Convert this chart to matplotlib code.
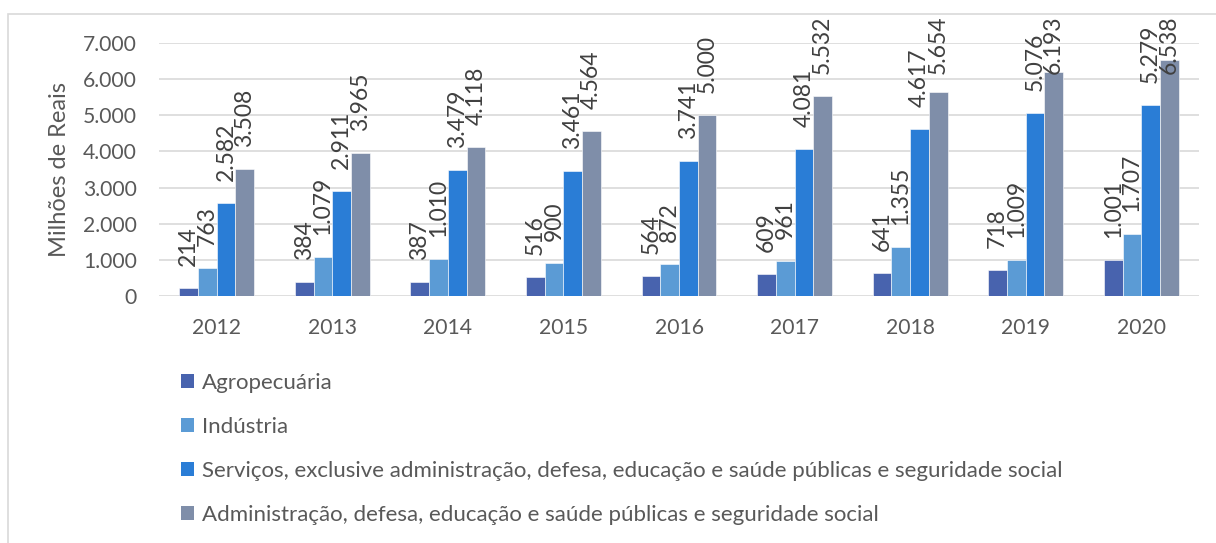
import numpy as np
import matplotlib
matplotlib.use("Agg")
import matplotlib.pyplot as plt
from matplotlib.patches import Rectangle, Patch

years = ["2012", "2013", "2014", "2015", "2016", "2017", "2018", "2019", "2020"]
agro = [214, 384, 387, 516, 564, 609, 641, 718, 1001]
industria = [763, 1079, 1010, 900, 872, 961, 1355, 1009, 1707]
servicos = [2582, 2911, 3479, 3461, 3741, 4081, 4617, 5076, 5279]
admin = [3508, 3965, 4118, 4564, 5000, 5532, 5654, 6193, 6538]

names = [
    "Agropecuária",
    "Indústria",
    "Serviços, exclusive administração, defesa, educação e saúde públicas e seguridade social",
    "Administração, defesa, educação e saúde públicas e seguridade social",
]
colors = ["#4863AE", "#5B9BD5", "#2A7DD6", "#7F8EA9"]
series = [agro, industria, servicos, admin]

TXT = "#595959"
plt.rcParams["font.family"] = ["Lato", "DejaVu Sans"]

fig = plt.figure(figsize=(12.16, 5.43), dpi=100)
# outer chart border (cropped on right/bottom)
fig.patches.append(Rectangle((8 / 1216, -0.1), 1.2, 1 - 14 / 543 + 0.1,
                             transform=fig.transFigure, fill=False,
                             edgecolor="#D9D9D9", lw=1.2))

ax = fig.add_axes([159 / 1216, 1 - 296 / 543, 1040 / 1216, 253 / 543])
ax.set_xlim(-0.5, len(years) - 0.5)
ax.set_ylim(0, 7000)

x = np.arange(len(years))
w = 0.162
px = 7000 / 253.0          # data units per pixel
gap = 22 * px              # label gap above bar
top_lim = 7000 + (43 - 22) * px - 52 * px   # labels pushed down near the frame top
fmt = lambda v: f"{v:,}".replace(",", ".")
for i, (vals, c) in enumerate(zip(series, colors)):
    pos = x + (i - 1.5) * w
    ax.bar(pos, vals, width=w, color=c, edgecolor="white", linewidth=0.4, zorder=3)
    for p, v in zip(pos, vals):
        ax.text(p, min(v + gap, top_lim), fmt(v), rotation=90, ha="center",
                va="bottom", fontsize=16.5, color="#404040", zorder=4)

ax.set_yticks(range(0, 7001, 1000))
ax.set_yticklabels([fmt(v) for v in range(0, 7001, 1000)])
ax.set_xticks(x)
ax.set_xticklabels(years)
ax.tick_params(axis="both", length=0, labelsize=15.2, colors=TXT)
ax.tick_params(axis="y", pad=16)
ax.tick_params(axis="x", pad=16)
ax.grid(axis="y", color="#D9D9D9", lw=1.2, zorder=0)
for s in ax.spines.values():
    s.set_visible(False)
ax.set_ylabel("Milhões de Reais", fontsize=17, color=TXT, labelpad=9)

handles = [Patch(facecolor=c) for c in colors]
fig.legend(handles, names, loc="upper left", bbox_to_anchor=(172 / 1216, 1 - 364 / 543),
           frameon=False, fontsize=16, labelcolor=TXT, handlelength=0.6,
           handleheight=0.6, handletextpad=0.35, labelspacing=1.08, borderaxespad=0)

fig.savefig("out.png", dpi=100)
